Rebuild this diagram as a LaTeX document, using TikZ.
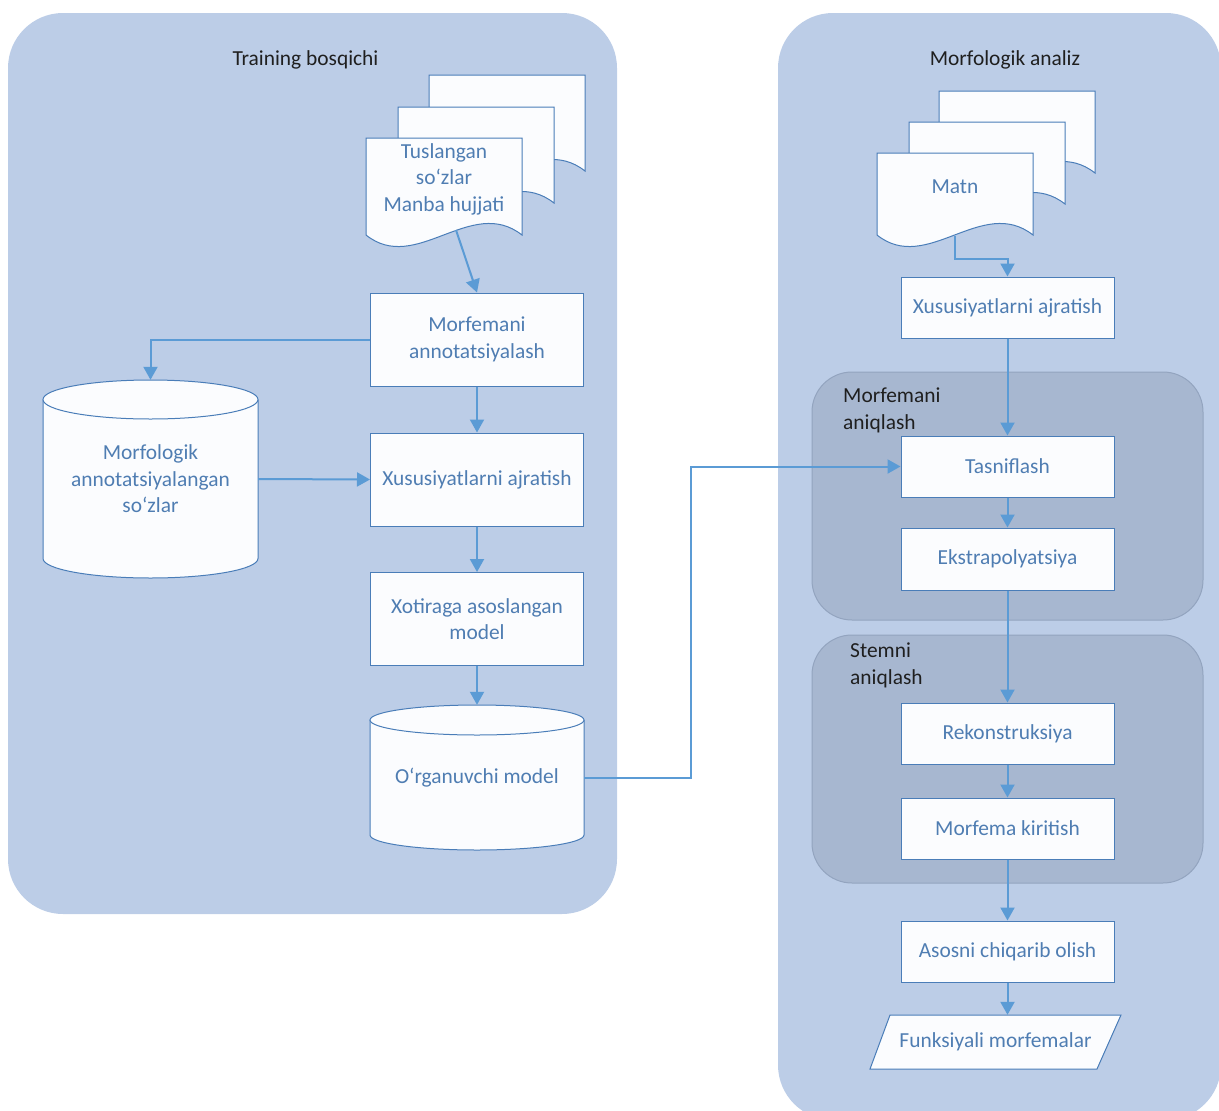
\documentclass[tikz,border=0pt]{standalone}
\usepackage{fontspec}
\setmainfont{Carlito}
\usetikzlibrary{arrows.meta,calc}
\definecolor{panelc}{HTML}{BCCDE7}
\definecolor{groupc}{HTML}{A7B7D0}
\definecolor{groupline}{HTML}{93A4BF}
\definecolor{boxline}{HTML}{4A7DB8}
\definecolor{boxfill}{HTML}{FBFCFE}
\definecolor{boxtext}{HTML}{4F7DB2}
\definecolor{arrowc}{HTML}{5B9BD5}
\newcommand\myfont{\fontsize{21.5}{26.5}\selectfont}
\newcommand\mydocpage[3]{%
  \draw[docst] ({#1},{#2+#3}) -- ({#1},{#2}) -- ({#1+156},{#2}) -- ({#1+156},{#2+#3})
    .. controls ({#1+105},{#2+#3-40}) and ({#1+50},{#2+#3+40}) .. ({#1},{#2+#3}) -- cycle;}
\newcommand\mycyl[5]{%
  \pgfmathsetmacro\mycx{(#1+#3)/2}%
  \pgfmathsetmacro\myrx{(#3-#1)/2}%
  \pgfmathsetmacro\myk{0.5523}%
  \fill[boxfill] ({#1},{#2+#5}) -- ({#1},{#4-#5})
    .. controls ({#1},{#4-#5+\myk*#5}) and ({\mycx-\myk*\myrx},{#4}) .. ({\mycx},{#4})
    .. controls ({\mycx+\myk*\myrx},{#4}) and ({#3},{#4-#5+\myk*#5}) .. ({#3},{#4-#5})
    -- ({#3},{#2+#5}) -- cycle;
  \draw[boxline,line width=1bp] ({#1},{#2+#5}) -- ({#1},{#4-#5})
    .. controls ({#1},{#4-#5+\myk*#5}) and ({\mycx-\myk*\myrx},{#4}) .. ({\mycx},{#4})
    .. controls ({\mycx+\myk*\myrx},{#4}) and ({#3},{#4-#5+\myk*#5}) .. ({#3},{#4-#5})
    -- ({#3},{#2+#5});
  \draw[boxline,line width=1bp,fill=boxfill] ({\mycx},{#2+#5}) ellipse [x radius=\myrx, y radius=#5];}
\begin{document}
\begin{tikzpicture}[x=1bp,y=-1bp,
  panel/.style={fill=panelc, rounded corners=55bp},
  grp/.style={fill=groupc, draw=groupline, line width=1bp, rounded corners=40bp},
  docst/.style={draw=boxline, fill=boxfill, line width=1bp},
  box/.style={draw=boxline, fill=boxfill, line width=1bp, minimum width=213bp,
    minimum height=61bp, text=boxtext, align=center, inner sep=2bp, font=\myfont},
  tallbox/.style={box, minimum height=93bp},
  txt/.style={text=boxtext, align=center, inner sep=0bp, font=\myfont},
  title/.style={text=black!88, align=left, inner sep=0bp, font=\myfont},
  conn/.style={draw=arrowc, line width=2bp, -{Triangle[length=13bp,width=14bp]}}]
\useasboundingbox (0,0) rectangle (1219,1111);
% panels
\path[panel] (8,13) rectangle (617,914);
\path[panel] (778,13) rectangle (1221,1120);
% groups
\path[grp] (812,372) rectangle (1203,620);
\path[grp] (812,635) rectangle (1203,883);
% titles
\node[title] (tL) at (305.5,60) {Training bosqichi};
\node[title] (tR) at (1005,60) {Morfologik analiz};
\node[title, anchor=west] (gA) at (843,410.5) {Morfemani\\aniqlash};
\node[title, anchor=west] (gB) at (850,665.5) {Stemni\\aniqlash};
% documents
\mydocpage{429}{75}{96}
\mydocpage{398}{107}{96}
\mydocpage{366}{138}{97}
\node[txt] (docL) at (444,179) {Tuslangan\\so‘zlar\\Manba hujjati};
\coordinate (docLout) at (456,230);
\mydocpage{939}{91}{82}
\mydocpage{909}{122}{82}
\mydocpage{877}{153}{82}
\node[txt] (docR) at (955,187) {Matn};
\coordinate (docRout) at (955,236);
% cylinders
\mycyl{43}{380}{258}{578}{19.5}
\node[txt, minimum width=215bp, minimum height=198bp] (cylM) at (150.5,479) {Morfologik\\annotatsiyalangan\\so‘zlar};
\mycyl{370}{705}{584}{850}{15}
\node[txt, minimum width=214bp, minimum height=145bp] (cylO) at (477,777.5) {O‘rganuvchi model};
% left boxes
\node[tallbox] (b1) at (477,339.5) {Morfemani\\annotatsiyalash};
\node[tallbox] (b2) at (477,479.5) {Xususiyatlarni ajratish};
\node[tallbox] (b3) at (477,619) {Xotiraga asoslangan\\model};
% right boxes
\node[box] (r1) at (1007.5,307.5) {Xususiyatlarni ajratish};
\node[box] (tas) at (1007.5,466.5) {Tasniflash};
\node[box, minimum height=62bp] (eks) at (1007.5,559) {Ekstrapolyatsiya};
\node[box] (rek) at (1007.5,733.5) {Rekonstruksiya};
\node[box] (mk) at (1007.5,828.5) {Morfema kiritish};
\node[box] (aso) at (1007.5,951.5) {Asosni chiqarib olish};
\draw[docst] (890,1015) -- (1121,1015) -- (1097,1069) -- (870,1069) -- cycle;
\node[txt, minimum height=54bp] (funk) at (995.5,1042) {Funksiyali morfemalar};
% connectors
\draw[conn] (docLout) -- (b1.north);
\draw[conn] (b1.west) -| (cylM.north);
\draw[conn] (cylM.east) -- (b2.west);
\draw[conn] (b1.south) -- (b2.north);
\draw[conn] (b2.south) -- (b3.north);
\draw[conn] (b3.south) -- (cylO.north);
\draw[conn] (cylO.east) -- ($(cylO.east)+(107,0)$) |- (tas.west);
\draw[conn] (docRout) |- ($(r1.north)+(0,-18)$) -- (r1.north);
\draw[conn] (r1.south) -- (tas.north);
\draw[conn] (tas.south) -- (eks.north);
\draw[conn] (eks.south) -- (rek.north);
\draw[conn] (rek.south) -- (mk.north);
\draw[conn] (mk.south) -- (aso.north);
\draw[conn] (aso.south) -- (aso.south |- funk.north);
\end{tikzpicture}
\end{document}
